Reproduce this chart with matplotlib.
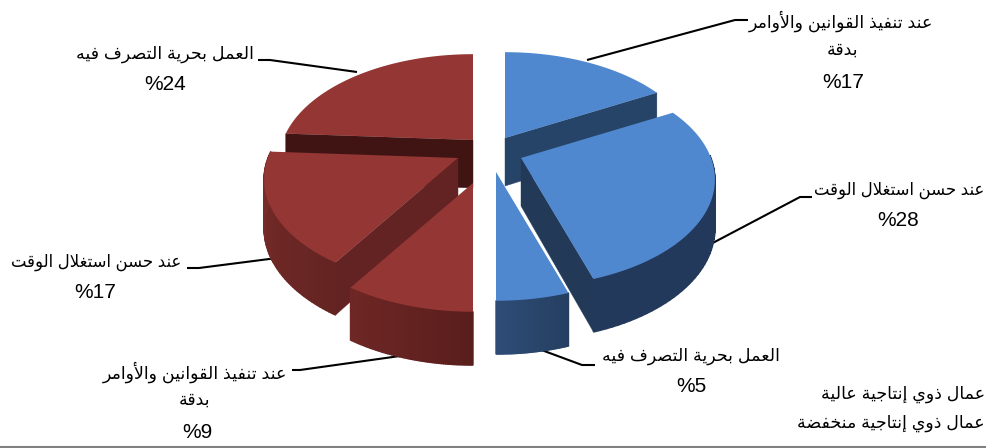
import numpy as np
import matplotlib
matplotlib.use('Agg')
import matplotlib.pyplot as plt
from matplotlib.patches import Polygon
from matplotlib.colors import to_rgb

plt.rcParams['font.family'] = ['Liberation Sans', 'DejaVu Sans']

# ── data, clockwise from 12 o'clock
values = [17, 28, 5, 9, 17, 24]
label_rule = "عند تنفيذ القوانين والأوامر"
label_rule2 = "بدقة"
label_time = "عند حسن استغلال الوقت"
label_free = "العمل بحرية التصرف فيه"
legend_high = "عمال ذوي إنتاجية عالية"
legend_low = "عمال ذوي إنتاجية منخفضة"

# ── presentation forms: isolated, final, initial, medial
FORMS = {
    'ا': (0xFE8D, 0xFE8E), 'أ': (0xFE83, 0xFE84), 'إ': (0xFE87, 0xFE88),
    'ة': (0xFE93, 0xFE94), 'د': (0xFEA9, 0xFEAA), 'ذ': (0xFEAB, 0xFEAC),
    'ر': (0xFEAD, 0xFEAE), 'و': (0xFEED, 0xFEEE),
    'ب': (0xFE8F, 0xFE90, 0xFE91, 0xFE92), 'ت': (0xFE95, 0xFE96, 0xFE97, 0xFE98),
    'ج': (0xFE9D, 0xFE9E, 0xFE9F, 0xFEA0), 'ح': (0xFEA1, 0xFEA2, 0xFEA3, 0xFEA4),
    'خ': (0xFEA5, 0xFEA6, 0xFEA7, 0xFEA8), 'س': (0xFEB1, 0xFEB2, 0xFEB3, 0xFEB4),
    'ص': (0xFEB9, 0xFEBA, 0xFEBB, 0xFEBC), 'ض': (0xFEBD, 0xFEBE, 0xFEBF, 0xFEC0),
    'ع': (0xFEC9, 0xFECA, 0xFECB, 0xFECC), 'غ': (0xFECD, 0xFECE, 0xFECF, 0xFED0),
    'ف': (0xFED1, 0xFED2, 0xFED3, 0xFED4), 'ق': (0xFED5, 0xFED6, 0xFED7, 0xFED8),
    'ل': (0xFEDD, 0xFEDE, 0xFEDF, 0xFEE0), 'م': (0xFEE1, 0xFEE2, 0xFEE3, 0xFEE4),
    'ن': (0xFEE5, 0xFEE6, 0xFEE7, 0xFEE8), 'ه': (0xFEE9, 0xFEEA, 0xFEEB, 0xFEEC),
    'ي': (0xFEF1, 0xFEF2, 0xFEF3, 0xFEF4),
}
LAM_ALEF = {'ا': (0xFEFB, 0xFEFC), 'أ': (0xFEF7, 0xFEF8), 'إ': (0xFEF9, 0xFEFA)}


def shape(text):
    # matplotlib has no Arabic shaping, so pick the joined glyphs by hand
    out = []
    i = 0
    joined = False
    while i < len(text):
        ch = text[i]
        nxt = text[i + 1] if i + 1 < len(text) else ' '
        if ch not in FORMS:
            out.append(ch)
            joined = False
            i += 1
            continue
        if ch == 'ل' and nxt in LAM_ALEF:
            out.append(chr(LAM_ALEF[nxt][1 if joined else 0]))
            joined = False
            i += 2
            continue
        forms = FORMS[ch]
        can_join_next = len(forms) == 4 and nxt in FORMS
        if joined and can_join_next:
            out.append(chr(forms[3]))
        elif joined:
            out.append(chr(forms[1]))
        elif can_join_next:
            out.append(chr(forms[2]))
        else:
            out.append(chr(forms[0]))
        joined = can_join_next
        i += 1
    return ''.join(reversed(out))


# ── pie geometry, in pixels
cx, cy = 488, 160
rx, ry = 190, 103
persp = 0.2
explode_x = [17, 33, 8, -15, -30, -15]
explode_y = [-22, -2, 12, 23, -2, -20]
draw_order = [5, 0, 4, 1, 2, 3]

top_col = ['#5088d0', '#5088d0', '#5088d0', '#933634', '#933634', '#933634']
cut_col = ['#264468', '#233958', '#2a4568', '#632322', '#632322', '#3f1413']
arc_from = ['#264468', '#22395b', '#253f61', '#591e1c', '#642422', '#5a1f1d']
arc_to = ['#264468', '#22395b', '#2e4c76', '#6e2725', '#7a2d2b', '#5a1f1d']


def project(theta, ox, oy):
    u, v = np.sin(theta), -np.cos(theta)
    d = 1 - persp * v
    return ox + rx * u / d, oy + ry * v / d


def depth(v):
    return 48 / (1 - 0.1 * v)


fig = plt.figure(figsize=(9.87, 4.48), dpi=100)
ax = fig.add_axes([0, 0, 1, 1])
ax.set_xlim(0, 987)
ax.set_ylim(448, 0)
ax.axis('off')

# leader lines sit under the slices
leaders = [
    ([587, 735, 748], [60, 20, 20]),
    ([707, 800, 812], [246, 197, 197]),
    ([528, 582, 595], [345, 365, 365]),
    ([407, 300, 292], [355, 370, 370]),
    ([277, 199, 187], [258, 268, 268]),
    ([357, 270, 258], [72, 60, 60]),
]
for lx, ly in leaders:
    ax.plot(lx, ly, color='black', lw=1.5, solid_capstyle='butt', zorder=1)

edges = np.cumsum([0] + values) / sum(values) * 2 * np.pi
z = 2
for i in draw_order:
    ox, oy = cx + explode_x[i], cy + explode_y[i]
    th = np.linspace(edges[i], edges[i + 1], 60)
    ax_x, ax_y = project(th, ox, oy)
    v = -np.cos(th)
    drop = depth(v)

    # radial cut faces, only the ones turned towards the viewer
    faces = []
    if -np.sin(th[0]) > 0.01:
        faces.append(0)
    if np.sin(th[-1]) > 0.01:
        faces.append(-1)
    for k in faces:
        quad = [(ox, oy), (ax_x[k], ax_y[k]),
                (ax_x[k], ax_y[k] + drop[k]), (ox, oy + depth(0))]
        ax.add_patch(Polygon(quad, closed=True, fc=cut_col[i], ec=cut_col[i],
                             lw=0.3, zorder=z))

    # outer rim as thin strips so the shade can change along it
    c0, c1 = np.array(to_rgb(arc_from[i])), np.array(to_rgb(arc_to[i]))
    for k in range(len(th) - 1):
        if v[k] < -0.05:
            continue
        col = c0 + (c1 - c0) * k / (len(th) - 2)
        quad = [(ax_x[k], ax_y[k]), (ax_x[k + 1], ax_y[k + 1]),
                (ax_x[k + 1], ax_y[k + 1] + drop[k + 1]), (ax_x[k], ax_y[k] + drop[k])]
        ax.add_patch(Polygon(quad, closed=True, fc=col, ec=col, lw=1.0, zorder=z))

    # top face
    top = [(ox, oy)] + list(zip(ax_x, ax_y))
    ax.add_patch(Polygon(top, closed=True, fc=top_col[i], ec='none', zorder=z + 0.5))
    z += 1

# ── labels
fs_ar = 12.5
fs_time = 11.9
fs_pct = 15
txt = dict(ha='center', va='center', color='black', zorder=20)

ax.text(841, 21, shape(label_rule), fontsize=fs_ar, **txt)
ax.text(843, 50, shape(label_rule2), fontsize=fs_ar, **txt)
ax.text(843, 83, f"%{values[0]}", fontsize=fs_pct, **txt)

ax.text(899, 190, shape(label_time), fontsize=fs_time, **txt)
ax.text(898, 221, f"%{values[1]}", fontsize=fs_pct, **txt)

ax.text(691, 356, shape(label_free), fontsize=fs_ar, **txt)
ax.text(691, 386, f"%{values[2]}", fontsize=fs_pct, **txt)

ax.text(195, 372, shape(label_rule), fontsize=fs_ar, **txt)
ax.text(195, 400, shape(label_rule2), fontsize=fs_ar, **txt)
ax.text(197, 432, f"%{values[3]}", fontsize=fs_pct, **txt)

ax.text(96, 262, shape(label_time), fontsize=fs_time, **txt)
ax.text(95, 292, f"%{values[4]}", fontsize=fs_pct, **txt)

ax.text(165, 54, shape(label_free), fontsize=fs_ar, **txt)
ax.text(165, 84, f"%{values[5]}", fontsize=fs_pct, **txt)

ax.text(985, 394, shape(legend_high), fontsize=fs_ar, ha='right', va='center', color='black')
ax.text(985, 423, shape(legend_low), fontsize=fs_ar, ha='right', va='center', color='black')

# thin grey rule along the bottom edge
ax.plot([0, 987], [447.5, 447.5], color='#808080', lw=1.5, solid_capstyle='butt')

fig.savefig('out.png', dpi=100)
